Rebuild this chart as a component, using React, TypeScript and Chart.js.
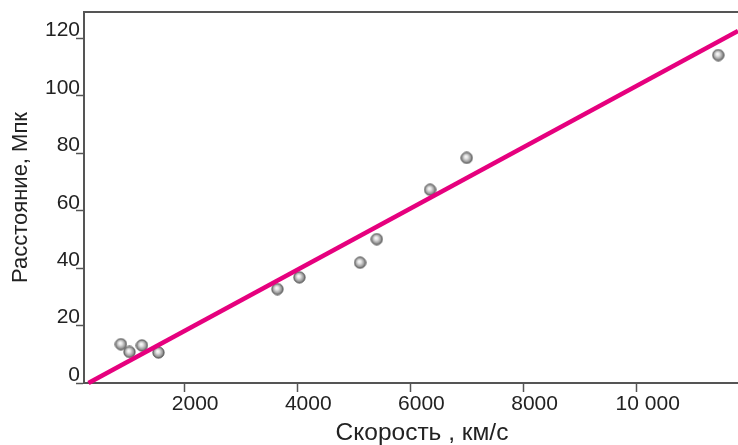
import React, { useEffect, useRef } from 'react';
import { Chart, registerables } from 'chart.js';

Chart.register(...registerables);

const speedKmS = [882, 1034, 1253, 1546, 3649, 4037, 5110, 5405, 6347, 6995, 11441];
const distanceMpc = [13.5, 10.8, 13.1, 10.6, 32.7, 36.8, 41.9, 50.1, 67.3, 78.4, 114.2];
const fitSpeed = [309, 11790];
const fitDistance = [0, 122.6];
const xTickValues = [2000, 4000, 6000, 8000, 10000];
const xTickLabels = ['2000', '4000', '6000', '8000', '10 000'];
const yTickValues = [0, 20, 40, 60, 80, 100, 120];
const xTitle = 'Скорость , км/с';
const yTitle = 'Расстояние, Мпк';

const FONT = '"Liberation Sans", Arial, Helvetica, sans-serif';
const AXIS = '#555555';

function makeSphere(): HTMLCanvasElement {
  const c = document.createElement('canvas');
  c.width = 13;
  c.height = 13;
  const g = c.getContext('2d')!;
  const grad = g.createRadialGradient(5.6, 5.2, 0, 6.5, 6.5, 6.2);
  grad.addColorStop(0, '#ffffff');
  grad.addColorStop(0.3, '#e2e2e2');
  grad.addColorStop(0.7, '#9a9a9a');
  grad.addColorStop(1, '#4c4c4c');
  g.beginPath();
  g.arc(6.5, 6.5, 5.7, 0, Math.PI * 2);
  g.fillStyle = grad;
  g.fill();
  g.lineWidth = 0.8;
  g.strokeStyle = '#555';
  g.stroke();
  return c;
}

const frameAndTitle = {
  id: 'frameAndTitle',
  afterDraw(chart: any) {
    const { ctx, chartArea } = chart;
    ctx.save();
    ctx.strokeStyle = AXIS;
    ctx.lineWidth = 2;
    ctx.beginPath();
    ctx.moveTo(chartArea.left - 1, chartArea.top);
    ctx.lineTo(chart.width, chartArea.top);
    ctx.stroke();
    ctx.fillStyle = '#222';
    ctx.font = `24.5px ${FONT}`;
    ctx.textAlign = 'center';
    ctx.textBaseline = 'middle';
    ctx.fillText(xTitle, (chartArea.left + chartArea.right) / 2 + 11, chart.height - 12);
    ctx.restore();
  },
};

export default function App() {
  const ref = useRef<HTMLCanvasElement>(null);

  useEffect(() => {
    document.body.style.margin = '0';
    const sphere = makeSphere();
    const chart = new Chart(ref.current!, {
      type: 'scatter',
      data: {
        datasets: [
          {
            type: 'line',
            data: fitSpeed.map((x, i) => ({ x, y: fitDistance[i] })),
            borderColor: '#E6007E',
            borderWidth: 4.6,
            pointRadius: 0,
            fill: false,
            clip: false,
            order: 0,
          } as any,
          {
            data: speedKmS.map((x, i) => ({ x, y: distanceMpc[i] })),
            pointStyle: sphere as any,
            pointRadius: 6,
            order: 1,
          },
        ],
      },
      options: {
        animation: false,
        responsive: false,
        maintainAspectRatio: false,
        layout: { autoPadding: false, padding: { top: 12, right: 0, left: 0, bottom: 0 } },
        plugins: { legend: { display: false }, tooltip: { enabled: false } },
        scales: {
          x: {
            type: 'linear',
            min: 230,
            max: 11790,
            afterFit: (s: any) => {
              s.height = 62;
              s.paddingLeft = 0;
              s.paddingRight = 0;
            },
            afterBuildTicks: (s: any) => { s.ticks = xTickValues.map((v) => ({ value: v })); },
            grid: { drawOnChartArea: false, drawTicks: true, tickLength: 9, tickColor: AXIS, tickWidth: 1.5 },
            border: { display: true, color: AXIS, width: 2 },
            ticks: {
              color: '#222',
              font: { family: FONT, size: 21 },
              padding: 0,
              labelOffset: 11,
              maxRotation: 0,
              autoSkip: false,
              callback: (v: any) => xTickLabels[xTickValues.indexOf(Number(v))] ?? '',
            },
            title: { display: false, text: xTitle },
          },
          y: {
            type: 'linear',
            min: 0,
            max: 129.2,
            afterFit: (s: any) => {
              s.width = 84;
              s.paddingTop = 0;
              s.paddingBottom = 0;
            },
            afterBuildTicks: (s: any) => { s.ticks = yTickValues.map((v) => ({ value: v })); },
            grid: { drawOnChartArea: false, drawTicks: true, tickLength: 8, tickColor: AXIS, tickWidth: 1.5 },
            border: { display: true, color: AXIS, width: 2 },
            ticks: {
              color: '#222',
              font: { family: FONT, size: 21 },
              padding: -4,
              labelOffset: -8,
              autoSkip: false,
              callback: (v: any) => String(v),
            },
            title: {
              display: true,
              text: yTitle,
              color: '#222',
              font: { family: FONT, size: 22 },
              padding: { top: 8, bottom: 0 },
            },
          },
        },
      },
      plugins: [frameAndTitle],
    });
    return () => chart.destroy();
  }, []);

  return (
    <div style={{ width: 738, height: 445, background: '#fff' }}>
      <canvas ref={ref} width={738} height={445} style={{ display: 'block', width: 738, height: 445 }} />
    </div>
  );
}
